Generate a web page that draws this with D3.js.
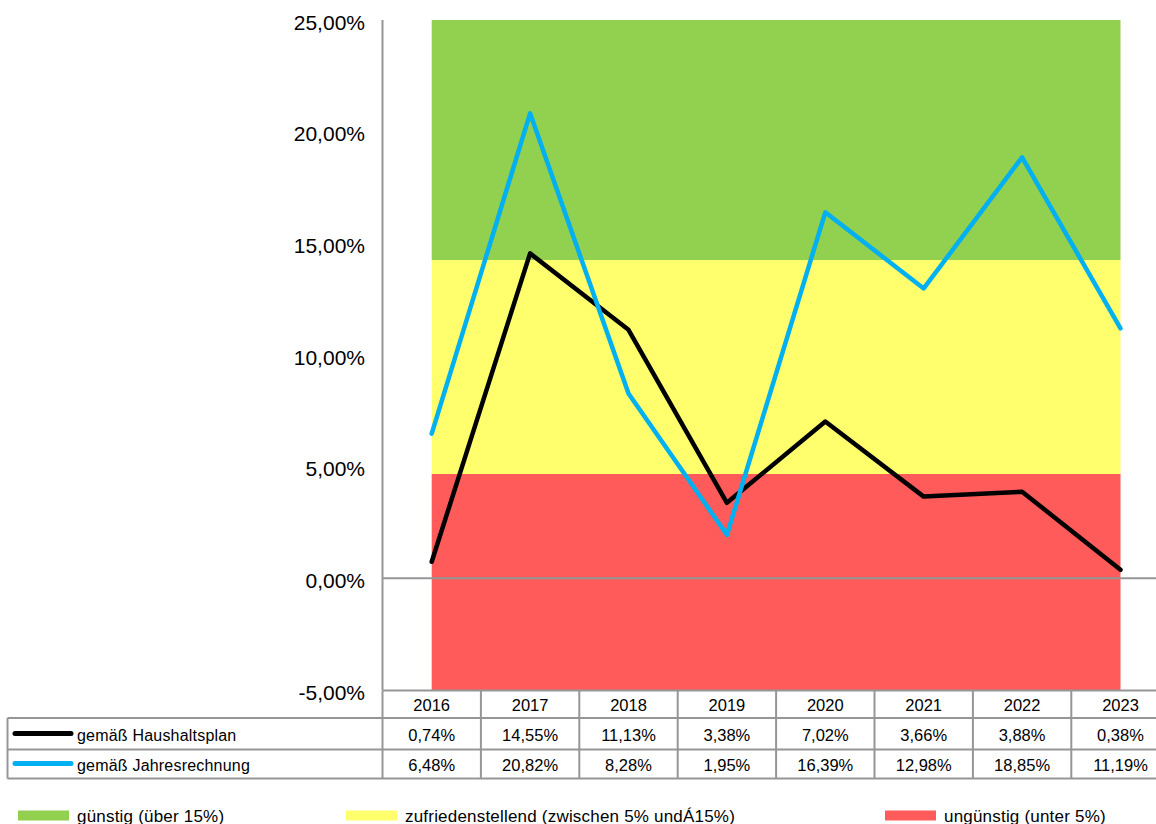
<!DOCTYPE html>
<html>
<head>
<meta charset="utf-8">
<script src="https://cdn.jsdelivr.net/npm/d3@7"></script>
<style>
  body { margin: 0; background: #fff; }
  svg { display: block; font-family: "Liberation Sans", Arial, sans-serif; }
</style>
</head>
<body>
<div id="chart"></div>
<script>
// data
const years = ["2016", "2017", "2018", "2019", "2020", "2021", "2022", "2023"];
const haushaltsplan = [0.74, 14.55, 11.13, 3.38, 7.02, 3.66, 3.88, 0.38];
const jahresrechnung = [6.48, 20.82, 8.28, 1.95, 16.39, 12.98, 18.85, 11.19];
const seriesNames = ["gemäß Haushaltsplan", "gemäß Jahresrechnung"];
const seriesColors = ["#000000", "#00b0f0"];

// background bands (lower, upper bound in %)
const bandNames = ["günstig (über 15%)", "zufriedenstellend (zwischen 5% undÁ15%)", "ungünstig (unter 5%)"];
const bandLower = [14.25, 4.67, -5];
const bandUpper = [25, 14.25, 4.67];
const bandColors = ["#92d050", "#ffff6e", "#ff5b5b"];
const yTicks = [-5, 0, 5, 10, 15, 20, 25];

const W = 1156, H = 824;
const axisX = 382.5, colW = 98.4;
// german number format, plain hyphen for the minus sign
const fmt = v => (v < 0 ? "-" : "") + Math.abs(v).toFixed(2).replace(".", ",") + "%";

const svg = d3.select("#chart").append("svg")
    .attr("width", W).attr("height", H);

const x = d3.scaleBand()
    .domain(years)
    .range([axisX, axisX + colW * years.length]);

const y = d3.scaleLinear()
    .domain([-5, 25])
    .range([690, 20]);

const cx = d => x(d) + x.bandwidth() / 2;

// bands as areas between first and last category centre
bandNames.forEach((name, i) => {
    const area = d3.area()
        .x(d => cx(d))
        .y0(() => y(bandLower[i]))
        .y1(() => y(bandUpper[i]));
    svg.append("path")
        .datum(years)
        .attr("d", area)
        .attr("fill", bandColors[i]);
});

// zero line
svg.append("line")
    .attr("x1", axisX).attr("x2", W)
    .attr("y1", y(0)).attr("y2", y(0))
    .attr("stroke", "#969696").attr("stroke-width", 2);

// y axis
svg.append("line")
    .attr("x1", axisX).attr("x2", axisX)
    .attr("y1", y(25)).attr("y2", y(-5))
    .attr("stroke", "#969696").attr("stroke-width", 2);

svg.selectAll("text.ytick")
    .data(yTicks)
    .enter().append("text")
    .attr("class", "ytick")
    .attr("x", 365)
    .attr("y", d => y(d) + 9.5)
    .attr("text-anchor", "end")
    .attr("font-size", 21)
    .attr("fill", "#000")
    .text(d => fmt(d));

// lines
[haushaltsplan, jahresrechnung].forEach((vals, i) => {
    const line = d3.line()
        .x((d, j) => cx(years[j]))
        .y(d => y(d));
    svg.append("path")
        .datum(vals)
        .attr("d", line)
        .attr("fill", "none")
        .attr("stroke", seriesColors[i])
        .attr("stroke-width", 4.5)
        .attr("stroke-linejoin", "round")
        .attr("stroke-linecap", "round");
});

// data table
const tableTop = 690.5, rowH = [27.5, 31.5, 29];
const rowY = [tableTop, tableTop + rowH[0], tableTop + rowH[0] + rowH[1], tableTop + rowH[0] + rowH[1] + rowH[2]];
const tableLeft = 7.5, tableRight = axisX + colW * years.length;
const grid = "#969696";

const tbl = svg.append("g");
// horizontal lines
tbl.append("line").attr("x1", axisX).attr("x2", tableRight).attr("y1", rowY[0]).attr("y2", rowY[0]);
[1, 2, 3].forEach(r => {
    tbl.append("line").attr("x1", tableLeft).attr("x2", tableRight).attr("y1", rowY[r]).attr("y2", rowY[r]);
});
// vertical lines
tbl.append("line").attr("x1", tableLeft).attr("x2", tableLeft).attr("y1", rowY[1]).attr("y2", rowY[3]);
years.concat(["end"]).forEach((yr, j) => {
    const xx = axisX + j * colW;
    tbl.append("line").attr("x1", xx).attr("x2", xx).attr("y1", rowY[0]).attr("y2", rowY[3]);
});
tbl.selectAll("line").attr("stroke", grid).attr("stroke-width", 2);

tbl.selectAll("text.year")
    .data(years)
    .enter().append("text")
    .attr("class", "year")
    .attr("x", d => cx(d))
    .attr("y", rowY[0] + 20)
    .attr("text-anchor", "middle")
    .attr("font-size", 16.5)
    .text(d => d);

[haushaltsplan, jahresrechnung].forEach((vals, i) => {
    const ty = rowY[i + 1] + (i === 0 ? 23 : 21.5);
    tbl.selectAll("text.v" + i)
        .data(vals)
        .enter().append("text")
        .attr("class", "v" + i)
        .attr("x", (d, j) => cx(years[j]))
        .attr("y", ty)
        .attr("text-anchor", "middle")
        .attr("font-size", 16.5)
        .text(d => fmt(d));
    tbl.append("line")
        .attr("x1", 15).attr("x2", 71)
        .attr("y1", ty - 7.5).attr("y2", ty - 7.5)
        .attr("stroke", seriesColors[i])
        .attr("stroke-width", 5)
        .attr("stroke-linecap", "round");
    tbl.append("text")
        .attr("x", 77)
        .attr("y", ty)
        .attr("font-size", 16)
        .attr("letter-spacing", 0.2)
        .text(seriesNames[i]);
});

// band legend
const legendX = [18, 346, 885];
bandNames.forEach((name, i) => {
    svg.append("rect")
        .attr("x", legendX[i]).attr("y", 810.5)
        .attr("width", 51).attr("height", 10)
        .attr("fill", bandColors[i]);
    svg.append("text")
        .attr("x", legendX[i] + 59)
        .attr("y", 822)
        .attr("font-size", 17)
        .attr("letter-spacing", 0.2)
        .text(name);
});
</script>
</body>
</html>
